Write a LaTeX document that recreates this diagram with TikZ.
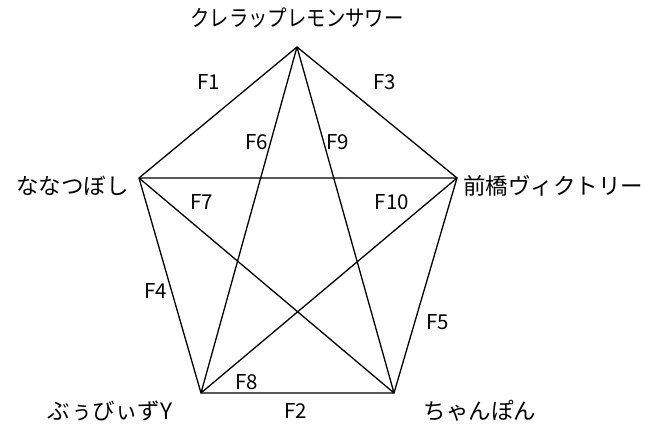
\documentclass[tikz,border=0pt]{standalone}
\usepackage{fontspec}
\setmainfont{Noto Sans CJK JP}
\begin{document}
\begin{tikzpicture}[x=1pt,y=-1pt,
  edge/.style={line width=1.3pt,black},
  vlab/.style={font=\fontsize{22.5}{26}\selectfont,inner sep=0pt},
  flab/.style={font=\fontsize{20.5}{22}\selectfont,inner sep=0pt}]
\useasboundingbox (0,0) rectangle (645,430);
\coordinate (T) at (297,47);
\coordinate (L) at (139,178);
\coordinate (R) at (457,178);
\coordinate (BL) at (201,393);
\coordinate (BR) at (394,393);
\node[vlab,xscale=0.86] (tT) at (297,18) {クレラップレモンサワー};
\node[vlab,anchor=east] (tL) at (129,186) {ななつぼし};
\node[vlab,anchor=west] (tR) at (463,186) {前橋ヴィクトリー};
\node[vlab] (tBL) at (110,411) {ぶぅびぃずY};
\node[vlab] (tBR) at (480,411) {ちゃんぽん};
\draw[edge] (T) -- (L) -- (BL) -- (BR) -- (R) -- cycle;
\draw[edge] (T) -- (BL) (T) -- (BR) (L) -- (R) (L) -- (BR) (R) -- (BL);
\node[flab] (f1) at (209,82) {F1};
\node[flab] (f3) at (385,82) {F3};
\node[flab] (f6) at (257,142) {F6};
\node[flab] (f9) at (338,142) {F9};
\node[flab] (f7) at (202,202) {F7};
\node[flab] (f10) at (392,202) {F10};
\node[flab] (f4) at (156,291) {F4};
\node[flab] (f5) at (438,322) {F5};
\node[flab] (f8) at (247,382) {F8};
\node[flab] (f2) at (296,411) {F2};
\end{tikzpicture}
\end{document}
